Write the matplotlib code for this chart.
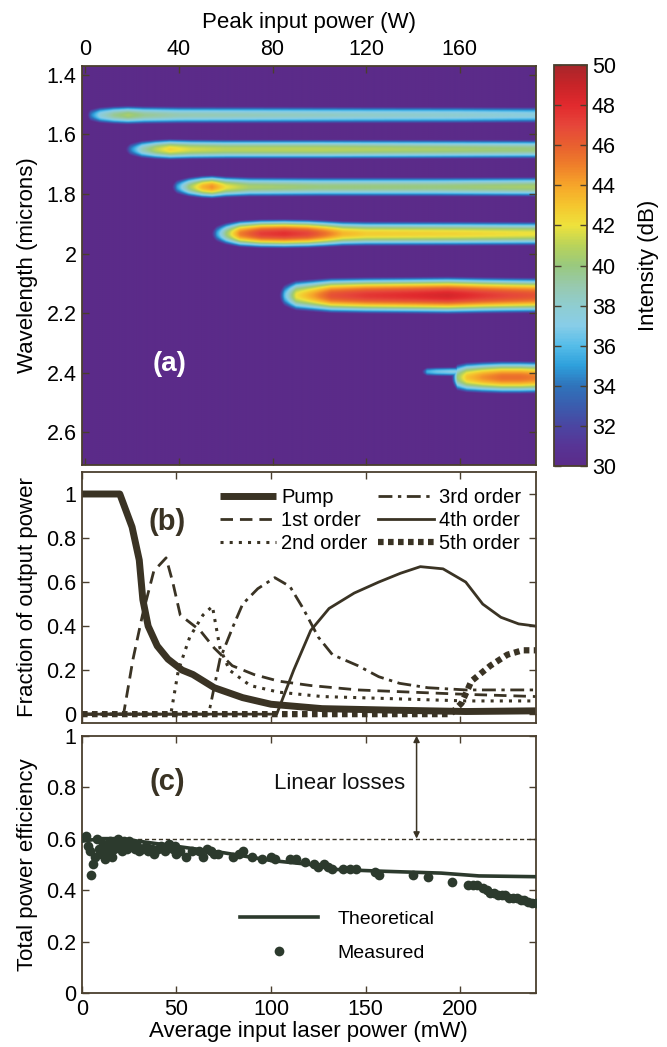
import numpy as np
import matplotlib
matplotlib.use("Agg")
import matplotlib.pyplot as plt
from matplotlib.colors import LinearSegmentedColormap

plt.rcParams['font.family'] = ['Liberation Sans', 'DejaVu Sans']

# ---------------- data: panel (a) heat map bands ----------------
band_center_um = [1.537, 1.652, 1.778, 1.935, 2.142, 2.417, 2.398]
band_halfwidth_um = [0.032, 0.036, 0.040, 0.050, 0.064, 0.056, 0.016]

band1_power = [0, 2, 6, 12, 18, 25, 40, 80, 120, 160, 193]
band1_db = [28, 34, 37.5, 39.5, 40.5, 39.5, 38.8, 38.5, 38.2, 38, 37.5]
band2_power = [16, 19, 24, 30, 36, 45, 60, 100, 150, 193]
band2_db = [28, 34, 38.5, 41, 42.5, 41.5, 41, 41, 40.5, 40]
band3_power = [36, 39, 44, 50, 54, 60, 70, 100, 150, 193]
band3_db = [28, 35, 40, 43.5, 44.5, 42, 40.5, 40, 40, 40.5]
band4_power = [53, 56, 60, 66, 75, 85, 95, 102, 110, 120, 160, 193]
band4_db = [28, 35, 40, 45, 47.3, 47.8, 47, 45.5, 43.5, 42.8, 42.5, 42]
band5_power = [82, 85, 90, 97, 105, 120, 140, 155, 170, 180, 193]
band5_db = [28, 36, 42, 44, 46.5, 47.5, 48, 48.5, 47.5, 47, 46.5]
band6_power = [156, 159, 163, 170, 178, 186, 193]
band6_db = [28, 40, 43, 44.5, 45.5, 45.5, 45]
band6tip_power = [143, 146, 150, 156, 162, 166]
band6tip_db = [28, 35.5, 36.5, 37, 37, 28]

band_powers = [band1_power, band2_power, band3_power, band4_power, band5_power,
               band6_power, band6tip_power]
band_dbs = [band1_db, band2_db, band3_db, band4_db, band5_db, band6_db, band6tip_db]

peak_ticks_W = [0, 40, 80, 120, 160]
wl_ticks = [1.4, 1.6, 1.8, 2.0, 2.2, 2.4, 2.6]
wl_ticklabels = ['1.4', '1.6', '1.8', '2', '2.2', '2.4', '2.6']
cbar_ticks = [30, 32, 34, 36, 38, 40, 42, 44, 46, 48, 50]

# ---------------- data: panel (b) ----------------
pump_x = [0, 20, 26.5, 30.3, 32.2, 35, 39.8, 45.5, 53, 58.7, 70, 85, 100, 127, 165, 203, 240]
pump_y = [1.0, 1.0, 0.85, 0.70, 0.52, 0.40, 0.31, 0.25, 0.20, 0.18, 0.12, 0.075, 0.045, 0.025, 0.018, 0.012, 0.015]
o1_x = [0, 22, 27, 32, 38, 44.5, 48, 52, 62.5, 70, 79.5, 91, 104, 121, 146, 174, 203, 240]
o1_y = [0, 0, 0.25, 0.45, 0.65, 0.71, 0.60, 0.45, 0.38, 0.30, 0.22, 0.18, 0.15, 0.13, 0.11, 0.10, 0.09, 0.08]
o2_x = [0, 47, 51, 57, 64, 69, 73, 78, 89, 104, 127, 165, 203, 240]
o2_y = [0, 0, 0.20, 0.35, 0.45, 0.49, 0.30, 0.20, 0.13, 0.10, 0.08, 0.07, 0.06, 0.06]
o3_x = [0, 67, 73, 80, 85, 93, 102, 110, 117, 125, 132.5, 146, 157, 168, 183, 203, 240]
o3_y = [0, 0, 0.25, 0.40, 0.50, 0.57, 0.62, 0.58, 0.48, 0.35, 0.27, 0.22, 0.17, 0.14, 0.12, 0.11, 0.11]
o4_x = [0, 103, 112, 121, 130.7, 144, 157, 168.5, 179, 191, 203, 212, 221.6, 231, 240]
o4_y = [0, 0, 0.20, 0.38, 0.48, 0.55, 0.60, 0.64, 0.67, 0.66, 0.60, 0.50, 0.44, 0.41, 0.40]
o5_x = [0, 195, 200.8, 206, 216, 225, 233, 240]
o5_y = [0, 0, 0.05, 0.15, 0.22, 0.27, 0.29, 0.29]

# ---------------- data: panel (c) ----------------
theo_x = [0, 10, 20, 35, 50, 75, 100, 120, 135, 160, 190, 210, 240]
theo_y = [0.59, 0.60, 0.60, 0.585, 0.57, 0.545, 0.515, 0.50, 0.48, 0.473, 0.466, 0.455, 0.452]
meas_x = [2, 3, 4, 5, 6, 7, 8, 9, 10, 11, 12, 13, 14, 15, 16, 17, 18, 19, 20, 21, 22, 23, 24,
          25, 26, 27, 28, 29, 30, 32, 34, 35, 37, 38, 40, 42, 44, 45, 46, 48, 49, 50, 52, 55,
          58, 62, 64, 66, 68, 70, 72, 80, 83, 85, 90, 95, 100, 102, 110, 113, 118, 123, 125,
          128, 130, 132, 138, 142, 145, 155, 157, 175, 183, 196, 204, 207, 209, 212, 214, 216,
          218, 220, 222, 224, 226, 228, 230, 232, 234, 236, 238, 240]
meas_y = [0.61, 0.57, 0.55, 0.46, 0.50, 0.53, 0.60, 0.56, 0.54, 0.58, 0.52, 0.55, 0.57, 0.59,
          0.53, 0.56, 0.58, 0.60, 0.57, 0.55, 0.59, 0.58, 0.56, 0.59, 0.57, 0.58, 0.56, 0.57,
          0.55, 0.56, 0.57, 0.55, 0.56, 0.54, 0.56, 0.57, 0.55, 0.57, 0.58, 0.56, 0.57, 0.54,
          0.55, 0.53, 0.55, 0.55, 0.53, 0.56, 0.55, 0.54, 0.54, 0.53, 0.54, 0.55, 0.53, 0.52,
          0.53, 0.52, 0.52, 0.52, 0.51, 0.50, 0.49, 0.50, 0.49, 0.48, 0.48, 0.48, 0.48, 0.47,
          0.46, 0.46, 0.45, 0.43, 0.42, 0.42, 0.42, 0.41, 0.40, 0.39, 0.39, 0.38, 0.38, 0.38,
          0.37, 0.37, 0.37, 0.36, 0.36, 0.355, 0.35, 0.35]
loss_level = 0.6
arrow_x = 177

avg_ticks = [0, 50, 100, 150, 200]
frac_ticks = [0, 0.2, 0.4, 0.6, 0.8, 1.0]
frac_ticklabels = ['0', '0.2', '0.4', '0.6', '0.8', '1']

# ---------------- styling ----------------
ink = '#3a3324'
frame = '#4a3f2e'
dot_col = '#2c3a2d'
tick_fs = 15.5
label_fs = 16

cmap = LinearSegmentedColormap.from_list('matjet', [
    (0.00, '#5b2b89'), (0.05, '#573596'), (0.10, '#4a46a2'), (0.15, '#3a5dae'),
    (0.20, '#2f74bb'), (0.25, '#2ea0dc'), (0.30, '#56bde9'), (0.35, '#88cde8'),
    (0.40, '#8fcdd0'), (0.45, '#98c9ad'), (0.50, '#99c97e'), (0.55, '#b9d35a'),
    (0.60, '#eee23c'), (0.65, '#f5c62e'), (0.70, '#f6a62a'), (0.75, '#ef7f2a'),
    (0.80, '#e8602f'), (0.85, '#e6463a'), (0.90, '#e22a2e'), (0.95, '#c92428'),
    (1.00, '#a8262a')])

fig = plt.figure(figsize=(6.67, 10.47), dpi=100)
fig.patch.set_facecolor('white')

axA = fig.add_axes([0.1229, 0.5559, 0.6802, 0.3811])
cax = fig.add_axes([0.8306, 0.5549, 0.0495, 0.3830])
axB = fig.add_axes([0.1229, 0.3095, 0.6802, 0.2397])
axC = fig.add_axes([0.1229, 0.0516, 0.6802, 0.2457])

def style_axes(ax):
    for s in ax.spines.values():
        s.set_color(frame)
        s.set_linewidth(1.3)
    ax.tick_params(direction='in', length=5, width=1.0, color=frame,
                   labelsize=tick_fs, top=True, right=True, pad=4)

# ---------------- panel (a) ----------------
xlimA = (-1.5, 192.5)
ylimA = (1.37, 2.71)
pgrid = np.linspace(xlimA[0], xlimA[1], 500)
lgrid = np.linspace(ylimA[0], ylimA[1], 600)
P, L = np.meshgrid(pgrid, lgrid)
Z = np.full(P.shape, 29.0)
for c, hw, bp, bd in zip(band_center_um, band_halfwidth_um, band_powers, band_dbs):
    peak = np.interp(pgrid, bp, bd, left=20, right=bd[-1])
    curv = (max(bd) - 30.0) / hw ** 2
    prof = peak[None, :] - curv * (L - c) ** 2
    Z = np.maximum(Z, prof)
Z = np.clip(Z, 30, 50)
im = axA.imshow(Z, extent=[xlimA[0], xlimA[1], ylimA[0], ylimA[1]], origin='lower',
                aspect='auto', cmap=cmap, vmin=30, vmax=50, interpolation='bilinear')
axA.set_xlim(*xlimA)
axA.set_ylim(ylimA[1], ylimA[0])
axA.xaxis.set_label_position('top')
axA.set_xticks(peak_ticks_W)
axA.set_yticks(wl_ticks)
axA.set_yticklabels(wl_ticklabels)
style_axes(axA)
axA.tick_params(labeltop=True, labelbottom=False)
axA.set_xlabel('Peak input power (W)', fontsize=label_fs, labelpad=8)
axA.set_ylabel('Wavelength (microns)', fontsize=label_fs, labelpad=6)
axA.text(36, 2.37, '(a)', color='white', fontsize=20, fontweight='bold',
         ha='center', va='center')

cb = fig.colorbar(im, cax=cax, ticks=cbar_ticks)
cb.outline.set_edgecolor(frame)
cb.outline.set_linewidth(1.3)
cax.tick_params(direction='in', length=5, width=1.0, color=frame, labelsize=tick_fs,
                left=True, right=True)
cb.set_label('Intensity (dB)', fontsize=label_fs, labelpad=16)

# ---------------- panel (b) ----------------
axB.plot(pump_x, pump_y, color=ink, lw=5.0, solid_capstyle='butt', label='Pump')
axB.plot(o1_x, o1_y, color=ink, lw=2.0, dashes=(4.5, 2.5), label='1st order')
axB.plot(o2_x, o2_y, color=ink, lw=2.2, dashes=(1.0, 2.0), label='2nd order')
axB.plot(o3_x, o3_y, color=ink, lw=2.0, dashes=(5, 2, 1.2, 2), label='3rd order')
axB.plot(o4_x, o4_y, color=ink, lw=2.0, label='4th order')
axB.plot(o5_x, o5_y, color=ink, lw=4.5, dashes=(0.9, 0.7), label='5th order')
axB.set_xlim(0, 240)
axB.set_ylim(-0.04, 1.1)
axB.set_xticks(avg_ticks)
axB.set_yticks(frac_ticks)
axB.set_yticklabels(frac_ticklabels)
style_axes(axB)
axB.tick_params(labelbottom=False)
axB.set_ylabel('Fraction of output power', fontsize=label_fs, labelpad=6)
axB.text(45, 0.875, '(b)', fontsize=21, fontweight='bold', color=ink, ha='center', va='center')
legB = axB.legend(loc='upper right', bbox_to_anchor=(0.995, 0.985), ncol=2, frameon=False,
                  fontsize=14.5, handlelength=2.8, handletextpad=0.25, labelspacing=0.2,
                  columnspacing=0.5, borderaxespad=0.2)

# ---------------- panel (c) ----------------
axC.axhline(loss_level, color=ink, lw=1.0, dashes=(3, 2))
axC.plot(theo_x, theo_y, color=dot_col, lw=2.6, label='Theoretical', zorder=3)
axC.plot(meas_x, meas_y, 'o', color=dot_col, ms=7, mec='none', label='Measured', zorder=4)
axC.annotate('', xy=(arrow_x, 1.0), xytext=(arrow_x, loss_level),
             arrowprops=dict(arrowstyle='<|-|>', color=ink, lw=1.1, mutation_scale=9,
                             shrinkA=0, shrinkB=0))
axC.text(arrow_x - 6, 0.815, 'Linear losses', fontsize=16, ha='right', va='center', color='#111111')
axC.text(45, 0.82, '(c)', fontsize=21, fontweight='bold', color=ink, ha='center', va='center')
axC.set_xlim(0, 240)
axC.set_ylim(0, 1)
axC.set_xticks(avg_ticks)
axC.set_yticks(frac_ticks)
axC.set_yticklabels(frac_ticklabels)
style_axes(axC)
axC.set_xlabel('Average input laser power (mW)', fontsize=label_fs, labelpad=1)
axC.set_ylabel('Total power efficiency', fontsize=label_fs, labelpad=6)
legC = axC.legend(loc='center left', bbox_to_anchor=(0.31, 0.22), frameon=False, fontsize=14,
                  handlelength=4.0, handletextpad=1.0, labelspacing=0.85, numpoints=1)

fig.savefig('out.png', dpi=100, facecolor='white')
